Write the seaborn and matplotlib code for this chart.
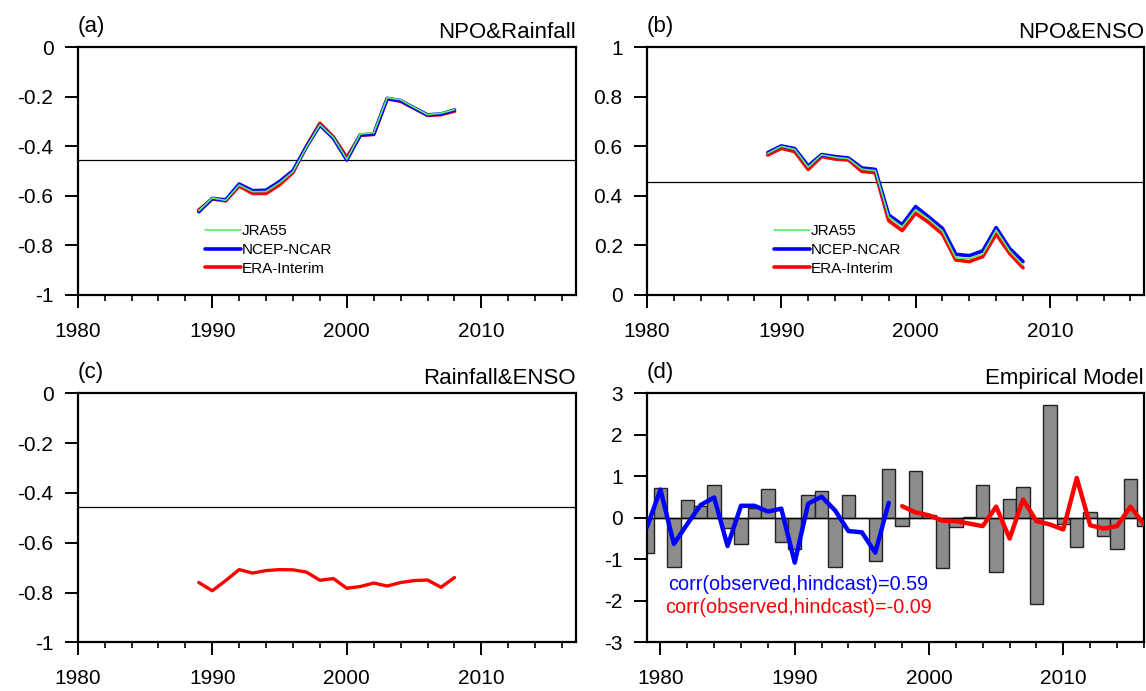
import matplotlib
matplotlib.use("Agg")
import matplotlib.pyplot as plt
import seaborn as sns

# ---- data ----
win_years = list(range(1989, 2009))

# (a) NPO & Rainfall sliding correlation
npo_rain_jra = [-0.660, -0.608, -0.618, -0.556, -0.583, -0.582, -0.547, -0.502, -0.403, -0.312,
                -0.364, -0.452, -0.350, -0.345, -0.203, -0.212, -0.243, -0.272, -0.266, -0.252]
npo_rain_ncep = [-0.664, -0.610, -0.616, -0.552, -0.579, -0.577, -0.542, -0.498, -0.401, -0.314,
                 -0.367, -0.455, -0.354, -0.350, -0.206, -0.215, -0.245, -0.273, -0.269, -0.253]
npo_rain_era = [-0.657, -0.612, -0.620, -0.560, -0.590, -0.590, -0.555, -0.505, -0.400, -0.307,
                -0.362, -0.445, -0.355, -0.352, -0.208, -0.218, -0.246, -0.275, -0.272, -0.258]

# (b) NPO & ENSO
npo_enso_jra = [0.572, 0.600, 0.588, 0.516, 0.566, 0.556, 0.550, 0.508, 0.502, 0.315,
                0.275, 0.345, 0.305, 0.258, 0.150, 0.147, 0.165, 0.262, 0.178, 0.120]
npo_enso_ncep = [0.575, 0.602, 0.591, 0.521, 0.567, 0.559, 0.553, 0.513, 0.507, 0.323,
                 0.284, 0.357, 0.314, 0.269, 0.164, 0.159, 0.178, 0.272, 0.188, 0.135]
npo_enso_era = [0.565, 0.592, 0.579, 0.507, 0.559, 0.549, 0.545, 0.499, 0.494, 0.300,
                0.260, 0.330, 0.292, 0.246, 0.141, 0.135, 0.155, 0.246, 0.168, 0.110]

# (c) Rainfall & ENSO
rain_enso = [-0.760, -0.793, -0.752, -0.708, -0.722, -0.712, -0.708, -0.709, -0.718, -0.751,
             -0.744, -0.783, -0.776, -0.762, -0.774, -0.760, -0.752, -0.750, -0.779, -0.740]

sig_level = 0.4555

# (d) empirical model
obs_years = list(range(1979, 2017))
observed = [-0.84, 0.71, -1.19, 0.44, 0.28, 0.80, -0.25, -0.63, 0.24, 0.69,
            -0.59, -0.76, 0.55, 0.64, -1.19, 0.56, 0.00, -1.03, 1.18, -0.19,
            1.13, 0.06, -1.22, -0.23, 0.02, 0.79, -1.31, 0.45, 0.75, -2.08,
            2.73, -0.15, -0.70, 0.14, -0.43, -0.76, 0.93, -0.20]
fit_years = list(range(1979, 1998))
hindcast_fit = [-0.22, 0.68, -0.63, -0.15, 0.31, 0.49, -0.68, 0.29, 0.29, 0.15,
                0.22, -1.08, 0.34, 0.51, 0.18, -0.32, -0.35, -0.84, 0.36]
ind_years = list(range(1998, 2017))
hindcast_ind = [0.28, 0.13, 0.06, -0.07, -0.08, -0.14, -0.20, 0.27, -0.50, 0.44,
                -0.08, -0.16, -0.28, 0.96, -0.18, -0.26, -0.20, 0.27, -0.15]

x_ticks = [1980, 1990, 2000, 2010]
y_ticks_neg = [0, -0.2, -0.4, -0.6, -0.8, -1]
y_labels_neg = ["0", "-0.2", "-0.4", "-0.6", "-0.8", "-1"]
y_ticks_pos = [1, 0.8, 0.6, 0.4, 0.2, 0]
y_labels_pos = ["1", "0.8", "0.6", "0.4", "0.2", "0"]
y_ticks_d = [3, 2, 1, 0, -1, -2, -3]
y_labels_d = ["3", "2", "1", "0", "-1", "-2", "-3"]

GREEN = "#5ef05e"
BLUE = "#0000ff"
RED = "#ff0000"

sns.set_theme(style="ticks")
plt.rcParams["font.family"] = ["Liberation Sans", "DejaVu Sans"]
plt.rcParams["axes.unicode_minus"] = False
plt.rcParams["text.color"] = "black"
plt.rcParams["xtick.color"] = "black"
plt.rcParams["ytick.color"] = "black"
plt.rcParams["legend.labelcolor"] = "black"

W, H = 1146, 691
fig = plt.figure(figsize=(W / 100, H / 100), dpi=100)


def make_axes(l, t, r, b):
    return fig.add_axes([l / W, 1 - b / H, (r - l) / W, (b - t) / H]), (b - t)


def style_axes(ax, xlim, ylim, yticks, ylabels):
    ax.set_xlim(*xlim)
    ax.set_ylim(*ylim)
    ax.set_xticks(x_ticks)
    ax.set_xticklabels([str(t) for t in x_ticks])
    ax.set_xticks(list(range(1980, int(xlim[1]) + 1, 2)), minor=True)
    ax.set_yticks(yticks)
    ax.set_yticklabels(ylabels)
    ax.set_xlabel("")
    ax.set_ylabel("")
    for s in ax.spines.values():
        s.set_linewidth(1.6)
        s.set_color("black")
        s.set_visible(True)
    ax.tick_params(axis="both", which="major", direction="out", length=9.5, width=1.4,
                   labelsize=15, colors="black", labelcolor="black", top=False, right=False)
    ax.tick_params(axis="x", which="major", pad=10)
    ax.tick_params(axis="y", which="major", pad=8)
    ax.tick_params(axis="x", which="minor", direction="out", length=4.5, width=1.2,
                   top=False, colors="black")
    ax.tick_params(axis="y", which="minor", left=False, right=False)


def titles(ax, h_px, left, right):
    ax.text(0, 1 + 15.5 / h_px, left, transform=ax.transAxes, ha="left", va="baseline",
            fontsize=16, color="black")
    ax.text(1, 1 + 9.5 / h_px, right, transform=ax.transAxes, ha="right", va="baseline",
            fontsize=16, color="black")


def triple(ax, jra, ncep, era):
    sns.lineplot(x=win_years, y=era, color=RED, lw=2.6, label="ERA-Interim", ax=ax)
    sns.lineplot(x=win_years, y=ncep, color=BLUE, lw=2.6, label="NCEP-NCAR", ax=ax)
    sns.lineplot(x=win_years, y=jra, color=GREEN, lw=1.2, label="JRA55", ax=ax)
    h, lab = ax.get_legend_handles_labels()
    order = [lab.index("JRA55"), lab.index("NCEP-NCAR"), lab.index("ERA-Interim")]
    ax.legend([h[i] for i in order], [lab[i] for i in order], loc="upper left",
              bbox_to_anchor=(0.255, 0.285), frameon=False, fontsize=11,
              handlelength=2.4, handletextpad=0.05, labelspacing=0.3,
              borderpad=0, borderaxespad=0, labelcolor="black")


# (a)
ax_a, ha = make_axes(77.7, 47.3, 575.6, 295)
triple(ax_a, npo_rain_jra, npo_rain_ncep, npo_rain_era)
ax_a.axhline(-sig_level, color="black", lw=0.9, zorder=1)
style_axes(ax_a, (1980, 2017), (-1, 0), y_ticks_neg, y_labels_neg)
titles(ax_a, ha, "(a)", "NPO&Rainfall")

# (b)
ax_b, hb = make_axes(647, 47.3, 1143.9, 295)
triple(ax_b, npo_enso_jra, npo_enso_ncep, npo_enso_era)
ax_b.axhline(sig_level, color="black", lw=0.9, zorder=1)
style_axes(ax_b, (1980, 2017), (0, 1), y_ticks_pos, y_labels_pos)
titles(ax_b, hb, "(b)", "NPO&ENSO")

# (c)
ax_c, hc = make_axes(77.7, 393.3, 575.6, 642.3)
sns.lineplot(x=win_years, y=rain_enso, color=RED, lw=2.4, ax=ax_c)
ax_c.axhline(-sig_level, color="black", lw=0.9, zorder=1)
style_axes(ax_c, (1980, 2017), (-1, 0), y_ticks_neg, y_labels_neg)
titles(ax_c, hc, "(c)", "Rainfall&ENSO")

# (d)
ax_d, hd = make_axes(647, 393.3, 1143.9, 642.3)
sns.barplot(x=obs_years, y=observed, native_scale=True, width=1, color="#8c8c8c",
            saturation=1, edgecolor="#222222", linewidth=1.0, errorbar=None, ax=ax_d,
            zorder=1)
ax_d.axhline(0, color="black", lw=1.0, zorder=2)
sns.lineplot(x=fit_years, y=hindcast_fit, color=BLUE, lw=3.2, ax=ax_d, zorder=3)
sns.lineplot(x=ind_years, y=hindcast_ind, color=RED, lw=3.2, ax=ax_d, zorder=3)
style_axes(ax_d, (1979, 2016), (-3, 3), y_ticks_d, y_labels_d)
ax_d.text(1980.55, -1.60, "corr(observed,hindcast)=0.59", color=BLUE, fontsize=14.3,
          ha="left", va="center")
ax_d.text(1980.35, -2.17, "corr(observed,hindcast)=-0.09", color=RED, fontsize=14.3,
          ha="left", va="center")
titles(ax_d, hd, "(d)", "Empirical Model")
for ax in (ax_c, ax_d):
    if ax.get_legend() is not None:
        ax.get_legend().remove()

fig.savefig("out.png", dpi=100)
